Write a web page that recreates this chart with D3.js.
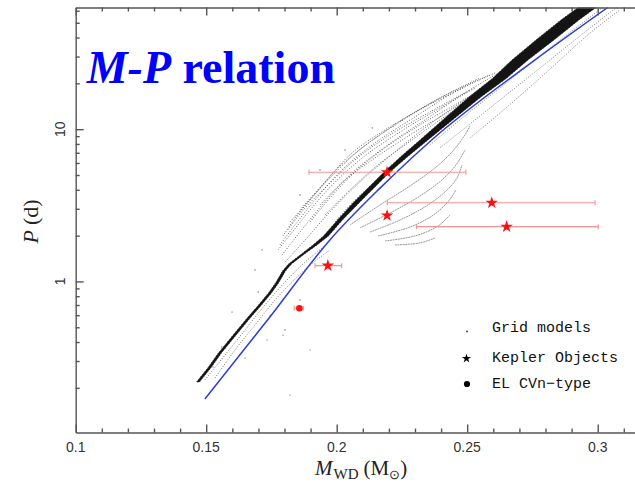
<!DOCTYPE html>
<html><head><meta charset="utf-8">
<script src="https://cdn.jsdelivr.net/npm/d3@7"></script>
<style>body{margin:0;background:#fff}svg{display:block}</style>
</head><body>
<svg id="c" width="635" height="487"></svg>
<script>
// ---------- data ----------
const xMajor = [0.1, 0.15, 0.2, 0.25, 0.3];
const xMinor = [0.11,0.12,0.13,0.14,0.16,0.17,0.18,0.19,0.21,0.22,0.23,0.24,0.26,0.27,0.28,0.29,0.31];
const yMajor = [1, 10];
const yMinor = [0.2,0.3,0.4,0.5,0.6,0.7,0.8,0.9,2,3,4,5,6,7,8,9,20,30,40,50,60];
const xTickLabels = ["0.1","0.15","0.2","0.25","0.3"];
const yTickLabels = ["1","10"];

// dense band of grid models: upper-left edge and lower-right edge
const bandEdgeA = [[0.14630,0.2185],[0.15088,0.2742],[0.15467,0.3388],[0.15970,0.4317],[0.16506,0.5582],[0.17004,0.7004],[0.17386,0.8401],[0.17656,0.9772],[0.17770,1.0539],[0.17924,1.1717],[0.18153,1.302],[0.18651,1.515],[0.19092,1.736],[0.19494,1.990],[0.20030,2.534],[0.20624,3.278],[0.21237,4.176],[0.21812,5.241],[0.22483,6.675],[0.23192,8.504],[0.24149,11.86],[0.25069,16.29],[0.25989,21.72],[0.26716,28.52],[0.27636,38.60],[0.28594,52.24],[0.29437,66.5]];
const bandEdgeB = [[0.14743,0.2185],[0.15204,0.2742],[0.15583,0.3388],[0.16085,0.4317],[0.16621,0.5582],[0.17119,0.7004],[0.17502,0.8401],[0.17771,0.9772],[0.17886,1.0539],[0.18039,1.1717],[0.18269,1.302],[0.18767,1.515],[0.19246,1.736],[0.19686,1.990],[0.20222,2.534],[0.20854,3.278],[0.21467,4.176],[0.22042,5.241],[0.22751,6.675],[0.23498,8.504],[0.24533,11.86],[0.25529,16.29],[0.26525,21.72],[0.27330,28.52],[0.28326,38.60],[0.29284,52.24],[0.30127,66.5]];

// individual grid-model tracks (dotted)
const tracksUpper = [
  [[0.1802,1.34],[0.1879,1.87],[0.1974,2.86],[0.2089,4.50],[0.2223,7.09],[0.2358,10.83],[0.2511,16.54],[0.2645,24.5]],
  [[0.1790,1.49],[0.1859,2.11],[0.1944,3.18],[0.2051,5.01],[0.2185,7.65],[0.2338,11.51],[0.2492,17.31],[0.2626,23.78]],
  [[0.1783,1.74],[0.1840,2.35],[0.1917,3.43],[0.2020,5.40],[0.2147,8.13],[0.2300,12.04],[0.2453,17.58],[0.2607,23.43]],
  [[0.1794,1.99],[0.1859,2.86],[0.1974,4.78],[0.2097,7.54],[0.2243,11.16],[0.2396,16.05],[0.2549,21.72]],
  [[0.1821,2.46],[0.1898,3.43],[0.2005,5.57],[0.2128,8.25],[0.2281,12.41],[0.2434,17.31],[0.2587,22.73]],
  [[0.1859,2.95],[0.1955,4.50],[0.2059,6.99],[0.2185,9.89],[0.2338,14.00],[0.2492,18.96]],
  [[0.1936,3.18],[0.2032,4.64],[0.2147,6.48],[0.2281,9.17],[0.2415,12.60],[0.2549,17.58]],
  [[0.1994,2.46],[0.2070,3.43],[0.2166,4.78],[0.2281,7.09],[0.2396,10.19]],
  [[0.1775,1.61],[0.1821,2.02],[0.1898,2.95],[0.1994,4.50],[0.2108,6.675],[0.2243,9.60],[0.2396,13.80],[0.2530,18.67]],
  [[0.1813,2.18],[0.1879,3.04],[0.1967,4.30],[0.2070,6.28],[0.2204,9.17],[0.2358,12.99],[0.2511,18.11]],
  [[0.1898,2.46],[0.1974,3.53],[0.2070,5.24],[0.2185,7.54],[0.2319,10.67],[0.2453,14.43],[0.2587,19.54]],
  [[0.1955,2.73],[0.2051,3.99],[0.2158,5.83],[0.2262,7.88],[0.2396,11.51],[0.2511,15.57]]
];
const tracksLower = [
  [[0.2051,2.35],[0.2166,3.18],[0.2281,4.24],[0.2377,5.57],[0.2442,7.09],[0.2484,8.76],[0.2511,10.51]],
  [[0.2089,2.25],[0.2212,2.86],[0.2319,3.64],[0.2403,4.64],[0.2457,5.83],[0.2492,7.31]],
  [[0.2128,2.11],[0.2243,2.534],[0.2338,3.09],[0.2415,3.87],[0.2461,4.78],[0.2480,5.83]],
  [[0.2158,1.99],[0.2273,2.25],[0.2365,2.69],[0.2426,3.33],[0.2457,3.99]],
  [[0.2185,1.845],[0.2300,1.99],[0.2388,2.31],[0.2434,2.73]],
  [[0.2223,1.736],[0.2319,1.79],[0.2377,1.93]]
];
const tracksRight = [
  [[0.2358,7.88],[0.2472,11.51],[0.2587,16.54],[0.2702,23.78],[0.2817,34.2],[0.2932,48.4],[0.3047,68.6]],
  [[0.2396,7.54],[0.2511,10.83],[0.2626,15.57],[0.2741,22.39],[0.2856,32.2],[0.2971,46.3],[0.3085,65.5]],
  [[0.2511,8.76],[0.2626,12.79],[0.2741,18.96],[0.2856,28.52],[0.2971,42.9],[0.3085,60.8]]
];
const tracksBase = [
  [[0.1495,0.2252],[0.1572,0.3287],[0.1649,0.480],[0.1725,0.700],[0.1802,0.99],[0.1879,1.34],[0.1955,1.71]],
  [[0.1534,0.2321],[0.1610,0.3546],[0.1687,0.5176],[0.1764,0.7556],[0.1829,0.99],[0.1898,1.28],[0.1974,1.61]]
];
const scatterM = [0.1745,0.1802,0.1733,0.1794,0.1649,0.1560,0.1526,0.1859,0.1714,0.1687,0.1859,0.1936,0.2032,0.2136,0.1599,0.1898,0.1821,0.1699];
const scatterP = [0.602,0.480,0.4124,0.4449,0.3142,0.3711,0.2742,0.7556,1.61,1.19,3.70,5.40,7.31,10.19,0.630,0.3546,0.1795,0.853];

// M-P relation (blue line)
const relM = [0.1495,0.1735,0.1974,0.2166,0.2364,0.2760,0.3040];
const relP = [0.169,0.558,1.873,4.10,8.50,28.5,63.3];

// Kepler objects
const keplerM  = [0.2193,0.2594,0.2193,0.2651,0.1966];
const keplerP  = [5.22,3.29,2.71,2.29,1.27];
const keplerLo = [0.1894,0.2194,null,0.2306,0.1917];
const keplerHi = [0.2495,0.2990,null,0.3002,0.2019];
// EL CVn-type
const elcvnM = [0.1857], elcvnP = [0.666], elcvnLo = [0.1837], elcvnHi = [0.1872];

const legendLabels = ["Grid models","Kepler Objects","EL CVn\u2212type"];

// ---------- drawing ----------
const svg = d3.select("#c");
const x = d3.scaleLinear().domain([0.1,0.315]).range([75.7,636.85]);
const y = d3.scaleLog().domain([0.1018,63]).range([432.5,7.5]);

svg.append("defs").append("clipPath").attr("id","clip")
  .append("rect").attr("x",75.7).attr("y",7.5).attr("width",562).attr("height",425);
const g = svg.append("g").attr("clip-path","url(#clip)");

const line = d3.line().x(d=>x(d[0])).y(d=>y(d[1])).curve(d3.curveCatmullRom);

function dotted(arr, col, w, dash){
  g.selectAll(null).data(arr).enter().append("path")
    .attr("d", line).attr("fill","none").attr("stroke",col)
    .attr("stroke-width",w).attr("stroke-dasharray",dash);
}
dotted(tracksUpper, "#444", 0.9, "0.9 1.8");
dotted(tracksLower, "#808080", 0.8, "2 0.6");
dotted(tracksRight, "#666", 0.9, "0.9 1.6");
dotted(tracksBase, "#555", 0.9, "0.9 1.8");

g.selectAll(null).data(scatterM).enter().append("circle")
  .attr("cx",(d)=>x(d)).attr("cy",(d,i)=>y(scatterP[i])).attr("r",0.6).attr("fill","#444");

// band
const bandPoly = bandEdgeA.concat(bandEdgeB.slice().reverse());
g.append("path").attr("d", d3.line().x(d=>x(d[0])).y(d=>y(d[1])).curve(d3.curveLinearClosed)(bandPoly))
  .attr("fill","#141414").attr("stroke","#2a2a2a").attr("stroke-width",1).attr("stroke-dasharray","1 1.2");

// blue relation
g.append("path").datum(relM.map((m,i)=>[m,relP[i]]))
  .attr("d", d3.line().x(d=>x(d[0])).y(d=>y(d[1])).curve(d3.curveMonotoneX))
  .attr("fill","none").attr("stroke","#2b3fd8").attr("stroke-width",1.5);

// error bars
function errbars(M, P, lo, hi){
  M.forEach((m,i)=>{
    if(lo[i]==null) return;
    const yy = y(P[i]);
    g.append("line").attr("x1",x(lo[i])).attr("x2",x(hi[i])).attr("y1",yy).attr("y2",yy)
      .attr("stroke","#f09595").attr("stroke-width",1.1);
    [lo[i],hi[i]].forEach(v=>g.append("line").attr("x1",x(v)).attr("x2",x(v))
      .attr("y1",yy-2.5).attr("y2",yy+2.5).attr("stroke","#f09595").attr("stroke-width",1.1));
  });
}
errbars(keplerM, keplerP, keplerLo, keplerHi);
errbars(elcvnM, elcvnP, elcvnLo, elcvnHi);

const star = d3.symbol().type(d3.symbolStar);
g.selectAll(null).data(keplerM).enter().append("path")
  .attr("d", star.size(48)())
  .attr("transform",(d,i)=>`translate(${x(d)},${y(keplerP[i])})`)
  .attr("fill","#ff1010");
g.selectAll(null).data(elcvnM).enter().append("circle")
  .attr("cx",d=>x(d)).attr("cy",(d,i)=>y(elcvnP[i])).attr("r",3.3).attr("fill","#ff1010");

// axes
const axCol = "#555";
function styleAxis(sel){ sel.selectAll("path,line").attr("stroke",axCol).attr("stroke-width",1.4); sel.selectAll("text").remove(); }
const gb = svg.append("g").attr("transform","translate(0,432.5)");
gb.call(d3.axisBottom(x).tickValues(xMajor).tickSize(-8).tickSizeOuter(0)).call(styleAxis);
gb.append("g").call(d3.axisBottom(x).tickValues(xMinor).tickSize(-4).tickSizeOuter(0)).call(styleAxis).select(".domain").remove();
const gt = svg.append("g").attr("transform","translate(0,7.5)");
gt.call(d3.axisTop(x).tickValues(xMajor).tickSize(-8).tickSizeOuter(0)).call(styleAxis);
gt.append("g").call(d3.axisTop(x).tickValues(xMinor).tickSize(-4).tickSizeOuter(0)).call(styleAxis).select(".domain").remove();
const gl = svg.append("g").attr("transform","translate(75.7,0)");
gl.call(d3.axisLeft(y).tickValues(yMajor).tickSize(-8).tickSizeOuter(0)).call(styleAxis);
gl.append("g").call(d3.axisLeft(y).tickValues(yMinor).tickSize(-4).tickSizeOuter(0)).call(styleAxis).select(".domain").remove();

// tick labels
svg.selectAll(null).data(xMajor).enter().append("text")
  .attr("x",d=>x(d)).attr("y",451.5).attr("text-anchor","middle")
  .attr("font-family","Liberation Sans, Arial, sans-serif").attr("font-size",14).attr("fill","#333")
  .text((d,i)=>xTickLabels[i]);
svg.selectAll(null).data(yMajor).enter().append("text")
  .attr("transform",d=>`translate(65,${y(d)}) rotate(-90)`).attr("text-anchor","middle")
  .attr("font-family","Liberation Sans, Arial, sans-serif").attr("font-size",14).attr("fill","#333")
  .text((d,i)=>yTickLabels[i]);

// axis titles
const yt = svg.append("text").attr("transform","translate(38,221.5) rotate(-90)")
  .attr("text-anchor","middle").attr("font-family","Liberation Serif, Times New Roman, serif")
  .attr("font-size",22).attr("fill","#222");
yt.append("tspan").attr("font-style","italic").text("P");
yt.append("tspan").attr("dx",5).text("(d)");

const xt = svg.append("text").attr("x",315).attr("y",475)
  .attr("font-family","Liberation Serif, Times New Roman, serif").attr("font-size",21).attr("fill","#222");
xt.append("tspan").attr("font-style","italic").text("M");
xt.append("tspan").attr("font-size",15).attr("dy",4).attr("dx",1).text("WD");
xt.append("tspan").attr("dy",-4).attr("dx",5).text("(M");
xt.append("tspan").attr("font-size",13).attr("dy",4).text("\u2299");
xt.append("tspan").attr("dy",-4).text(")");

// title
const tt = svg.append("text").attr("x",86.7).attr("y",83.3)
  .attr("font-family","Liberation Serif, Times New Roman, serif").attr("font-size",46)
  .attr("font-weight","bold").attr("fill","#0000ff");
tt.append("tspan").attr("font-style","italic").text("M-P");
tt.append("tspan").text(" relation");

// legend
const lg = svg.append("g").attr("font-family","Liberation Mono, Courier New, monospace").attr("font-size",15).attr("fill","#111");
const legY = [332, 361.5, 387.5];
lg.append("circle").attr("cx",467).attr("cy",legY[0]-0.5).attr("r",0.9).attr("fill","#333");
lg.append("path").attr("d", d3.symbol().type(d3.symbolStar).size(26)()).attr("transform",`translate(466.5,${legY[1]-3})`).attr("fill","#000");
lg.append("circle").attr("cx",467).attr("cy",legY[2]-3.5).attr("r",3.1).attr("fill","#000");
lg.selectAll("text").data(legendLabels).enter().append("text")
  .attr("x",492).attr("y",(d,i)=>legY[i]).text(d=>d);
</script>
</body></html>
